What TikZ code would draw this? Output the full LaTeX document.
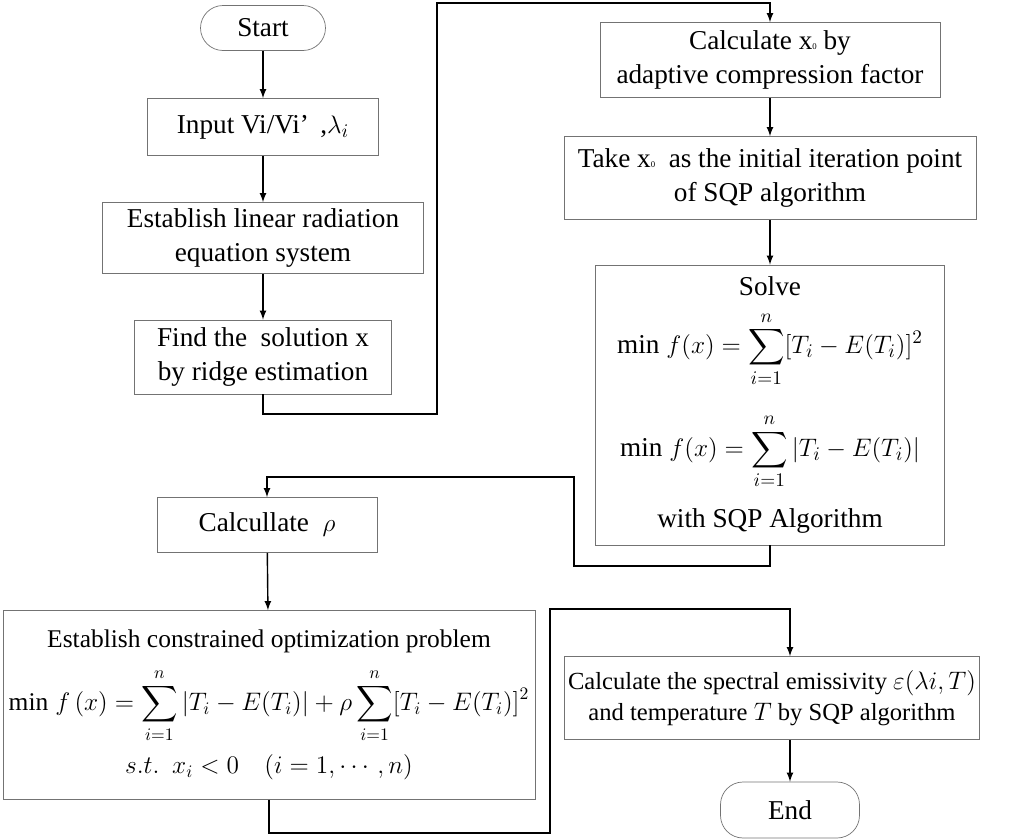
\documentclass[tikz,border=0pt]{standalone}
\usepackage{fontspec}
\setmainfont{Liberation Serif}
\usepackage{amsmath}
\tikzset{
  box/.style={draw=black!55, align=center, inner sep=2pt, font=\fontsize{15.5}{19}\selectfont},
  term/.style={box, rounded corners=0.45cm},
  arr/.style={-latex, thick}
}
\begin{document}
\begin{tikzpicture}[x=0.02cm,y=-0.02cm]
\useasboundingbox (0,0) rectangle (1025,839);

% left column
\node[term, minimum width=2.5cm, minimum height=0.9cm] (start) at (263,28) {Start};
\node[box, minimum width=4.62cm, minimum height=1.14cm] (input) at (263,127) {Input Vi/Vi\textquoteright\ \,,$\lambda_i$};
\node[box, minimum width=6.42cm, minimum height=1.42cm] (linear) at (263,238) {Establish linear radiation\\equation system};
\node[box, minimum width=5.14cm, minimum height=1.48cm] (ridge) at (263,357) {Find the \ solution \textsc{x}\\by ridge estimation};

% right column
\node[box, minimum width=6.8cm, minimum height=1.5cm] (xzero) at (770,60) {Calculate \textsc{x}{\tiny 0} by\\adaptive compression factor};
\node[box, minimum width=8.24cm, minimum height=1.66cm] (init) at (770,178) {Take \textsc{x}{\tiny 0} \ as the initial iteration point\\of SQP algorithm};
\node[box, minimum width=6.98cm, minimum height=5.6cm] (solve) at (770,405) {Solve\\[8pt]
  $\displaystyle \mathrm{min}\; f(x)=\sum_{i=1}^{n}[T_i-E(T_i)]^2$\\[14pt]
  $\displaystyle \mathrm{min}\; f(x)=\sum_{i=1}^{n}\left|T_i-E(T_i)\right|$\\[10pt]
  with SQP Algorithm};

% lower part
\node[box, minimum width=4.4cm, minimum height=1.1cm] (rho) at (267,525) {Calcullate \ $\rho$};
\node[box, minimum width=10.64cm, minimum height=3.78cm, font=\fontsize{14.5}{18}\selectfont] (constr) at (269,705) {Establish constrained optimization problem\\[8pt]
  $\displaystyle \mathrm{min}\; f\left(x\right)=\sum_{i=1}^{n}\left|T_i-E(T_i)\right|+\rho\sum_{i=1}^{n}[T_i-E(T_i)]^2$\\[6pt]
  $s.t.\ \ x_i<0\quad(i=1,\cdots,n)$};
\node[box, minimum width=8.3cm, minimum height=1.66cm, font=\fontsize{14}{18}\selectfont] (spectral) at (772,698) {Calculate the spectral emissivity $\varepsilon(\lambda i,T)$\\and temperature $T$ by SQP algorithm};
\node[term, minimum width=2.78cm, minimum height=1.12cm] (end) at (790,810) {End};

\coordinate (r1) at (437,414);
\coordinate (r2) at (437,3);
\coordinate (s1) at (574,566);
\coordinate (s2) at (574,477);
\coordinate (c1) at (550,833);
\coordinate (c2) at (550,609);

\draw[arr] (start) -- (input);
\draw[arr] (input) -- (linear);
\draw[arr] (linear) -- (ridge);
\draw[arr] (ridge.south) |- (r1) -- (r2) -| (xzero.north);
\draw[arr] (xzero) -- (init);
\draw[arr] (init) -- (solve);
\draw[arr] (solve.south) |- (s1) -- (s2) -| (rho.north);
\draw[arr] (rho) -- (constr);
\draw[arr] (constr.south) |- (c1) -- (c2) -| (end.north |- spectral.north);
\draw[arr] (end.north |- spectral.south) -- (end);
\end{tikzpicture}
\end{document}
